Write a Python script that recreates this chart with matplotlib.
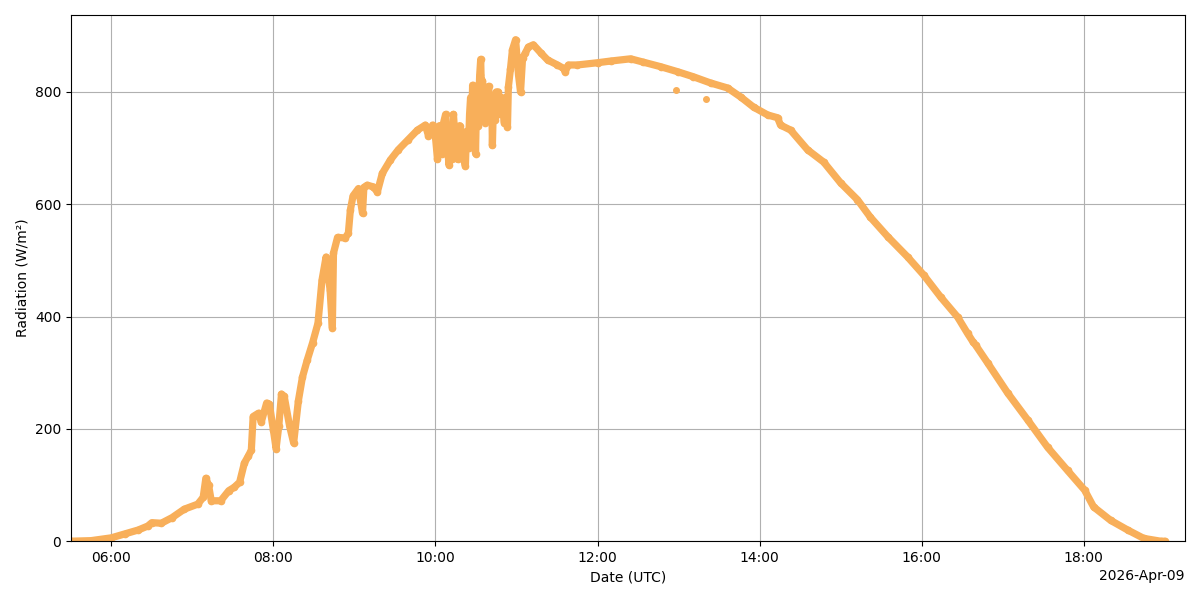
import pandas as pd
import matplotlib
matplotlib.use('Agg')
import matplotlib.pyplot as plt
import matplotlib.dates as mdates

day = '2026-04-09'

# readings (time UTC, W/m²)
times = [
    '05:30:00', '05:45:00', '06:00:00', '06:10:00', '06:20:00', '06:27:00', '06:30:00', '06:37:00',
    '06:45:00', '06:54:00', '07:04:00', '07:08:00', '07:10:00', '07:12:00', '07:14:00', '07:21:00',
    '07:27:00', '07:31:00', '07:35:00', '07:38:30', '07:41:30', '07:43:40', '07:45:00', '07:49:00',
    '07:51:00', '07:55:00', '07:57:00', '08:00:00', '08:02:00', '08:04:00', '08:06:00', '08:08:00',
    '08:12:00', '08:15:00', '08:18:30', '08:21:30', '08:25:00', '08:29:00', '08:33:00', '08:36:00',
    '08:39:00', '08:42:00', '08:43:40', '08:44:30', '08:47:30', '08:53:00', '08:55:30', '08:57:00',
    '08:59:00', '09:03:00', '09:06:00', '09:07:00', '09:09:30', '09:14:00', '09:17:00', '09:20:40',
    '09:26:40', '09:32:30', '09:39:20', '09:46:40', '09:52:30', '09:54:50', '09:57:50', '10:00:00',
    '10:01:30', '10:03:00', '10:05:00', '10:06:00', '10:07:30', '10:09:00', '10:10:00', '10:11:00',
    '10:12:30', '10:13:20', '10:15:00', '10:16:20', '10:18:00', '10:20:00', '10:22:10', '10:23:00',
    '10:24:30', '10:25:15', '10:26:00', '10:26:45', '10:27:30', '10:28:00', '10:28:30', '10:29:00',
    '10:29:40', '10:30:20', '10:31:00', '10:31:30', '10:32:00', '10:32:45', '10:33:30', '10:34:10',
    '10:34:50', '10:35:30', '10:36:00', '10:36:30', '10:37:00', '10:37:30', '10:38:00', '10:38:40',
    '10:39:20', '10:40:10', '10:41:00', '10:41:40', '10:42:10', '10:42:50', '10:43:30', '10:44:00',
    '10:44:30', '10:45:00', '10:45:30', '10:46:00', '10:46:40', '10:47:20', '10:48:00', '10:49:00',
    '10:49:40', '10:50:20', '10:51:00', '10:52:00', '10:53:20', '10:54:00',
    '10:55:30', '10:57:00', '10:59:20', '11:00:30', '11:01:30', '11:03:00', '11:04:30', '11:06:40',
    '11:08:50', '11:12:30', '11:17:50', '11:23:00', '11:30:20', '11:34:50', '11:36:00', '11:38:30',
    '11:45:00', '12:00:00', '12:09:40', '12:24:30', '12:34:00', '12:46:40', '12:59:20', '13:11:00',
    '13:23:40', '13:36:20', '13:46:00', '13:55:30', '14:06:00', '14:13:20', '14:15:30', '14:23:00',
    '14:35:30', '14:47:30', '15:00:00', '15:12:30', '15:22:00', '15:35:00', '15:49:40', '16:01:30',
    '16:14:00', '16:26:40', '16:34:00', '16:38:00', '16:40:00', '16:49:00', '17:03:40', '17:18:30',
    '17:33:20', '17:48:00', '18:00:40', '18:07:20', '18:20:00', '18:32:30', '18:44:30', '18:57:00',
    '19:00:00',
]
radiation = [
    0, 1, 6, 13, 20, 27, 33, 32,
    42, 57, 66, 78, 112, 100, 72, 72,
    90, 96, 105, 139, 152, 162, 222, 228,
    212, 246, 244, 198, 165, 205, 262, 258,
    205, 175, 250, 292, 322, 353, 388, 465,
    506, 447, 380, 513, 541, 540, 548, 590,
    615, 628, 584, 630, 634, 631, 622, 655,
    679, 697, 714, 732, 741, 722, 741, 720,
    680, 740, 690, 745, 760, 700, 670, 730,
    680, 760, 700, 680, 740, 690, 668, 730,
    700, 760, 790, 720, 812, 760, 740, 800,
    690, 770, 800, 740, 780, 830, 858, 790,
    820, 770, 760, 800, 745, 790, 800, 760,
    810, 780, 760, 790, 705, 770, 790, 750,
    780, 800, 760, 790, 800, 760, 770, 790,
    786, 760, 745, 790, 738, 809,
    840, 875, 893, 860, 830, 800, 860, 870,
    880, 884, 870, 857, 848, 842, 836, 848,
    848, 852, 855, 859, 853, 845, 836, 827,
    816, 807, 791, 773, 759, 754, 741, 732,
    697, 675, 638, 608, 577, 542, 506, 474,
    435, 399, 370, 355, 349, 317, 264, 216,
    167, 126, 91, 61, 37, 20, 5, 0,
    0,
]

# two stray readings below the curve
outlier_times = ['12:57:50', '13:20:40']
outlier_values = [803, 787]

t = pd.to_datetime([day + ' ' + s for s in times])
t_out = pd.to_datetime([day + ' ' + s for s in outlier_times])

color = '#f8af5a'

fig, ax = plt.subplots(figsize=(12, 6))
fig.subplots_adjust(left=0.059, right=0.9875, top=0.975, bottom=0.098)

ax.plot(t, radiation, '-', color=color, lw=5.2, solid_joinstyle='round', solid_capstyle='round')
ax.plot(t, radiation, 'o', color=color, ms=4.5)
ax.plot(t_out, outlier_values, 'o', color=color, ms=4)

ax.set_xlim(pd.Timestamp(day + ' 05:30:00'), pd.Timestamp(day + ' 19:15:00'))
ax.set_ylim(0, 937)

locator = mdates.HourLocator(byhour=range(0, 24, 2))
ax.xaxis.set_major_locator(locator)
ax.xaxis.set_major_formatter(mdates.ConciseDateFormatter(locator))

ax.grid(True)
ax.set_xlabel('Date (UTC)')
ax.set_ylabel('Radiation (W/m²)')

fig.savefig('out.png', dpi=100)
